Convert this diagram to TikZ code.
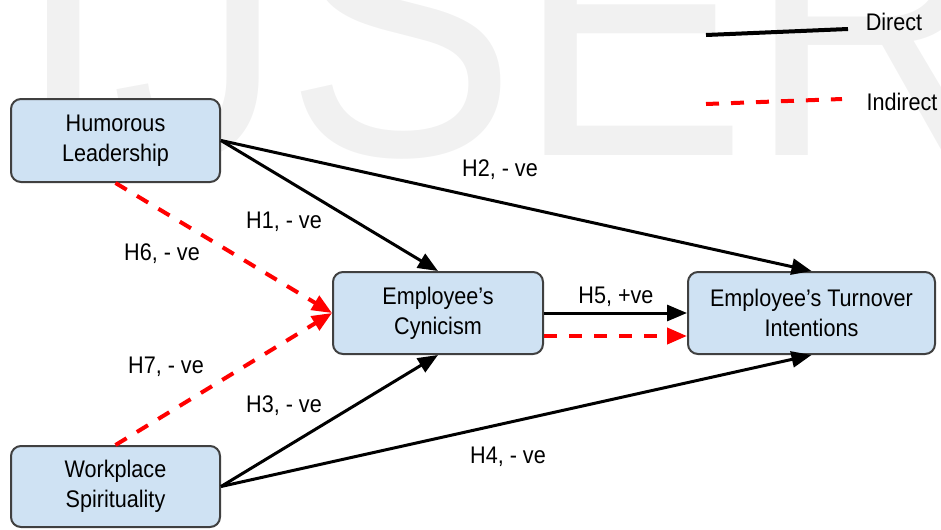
\documentclass[tikz,border=0pt]{standalone}
\usepackage{fontspec}
\setmainfont{Liberation Sans}[FakeStretch=0.9]
\usetikzlibrary{arrows.meta}

\definecolor{boxblue}{RGB}{207,226,243}
\definecolor{boxline}{RGB}{64,64,64}
\definecolor{markgray}{RGB}{241,241,241}

\tikzset{every picture/.style={line width=0.75pt}}
\tikzset{
	factor/.style={draw=boxline, fill=boxblue, rounded corners=7.5pt, line width=1.5pt, align=center, inner sep=0pt, font=\fontsize{18}{22.5}\selectfont},
	direct/.style={draw=black, line width=2.25pt, -{Triangle[length=15pt,width=12pt]}},
	indirect/.style={draw=red, line width=3pt, dash pattern={on 9.75pt off 9pt}, -{Triangle[length=15pt,width=12pt]}},
	hyp/.style={inner sep=0.75pt, font=\fontsize{18}{22.5}\selectfont}
}

\begin{document}
\begin{tikzpicture}[x=0.75pt,y=0.75pt,yscale=-1,xscale=1]
	\useasboundingbox (0,0) rectangle (941,529);
	
	%Watermark
	\begin{scope}
		\clip (0,0) rectangle (941,529);
		\node [anchor=base west, inner sep=0pt, text=markgray, font=\fontsize{289}{289}\selectfont] (mark) at (15,155) {IJSER};
	\end{scope}
	
	%Rounded Rect
	\node [factor, minimum width=156.75pt, minimum height=62.25pt] (hl) at (115.5,140.5) {Humorous\\Leadership};
	%Rounded Rect
	\node [factor, minimum width=156.75pt, minimum height=60.75pt] (ws) at (115.5,486.5) {Workplace\\Spirituality};
	%Rounded Rect
	\node [factor, minimum width=157.5pt, minimum height=61.5pt] (cyn) at (438,313) {Employee’s\\Cynicism};
	%Rounded Rect
	\node [factor, minimum width=185.25pt, minimum height=61.5pt] (ti) at (811.5,313) {Employee’s Turnover\\Intentions};
	
	%Straight Lines
	\draw [direct] (hl.east) -- (cyn.north);
	\draw [direct] (hl.east) -- (ti.north);
	\draw [direct] (ws.east) -- (cyn.south);
	\draw [direct] (ws.east) -- (ti.south);
	\draw [direct] (cyn.east) -- (ti.west);
	%Dashed Lines
	\draw [indirect] ([yshift=17.25pt]cyn.east) -- ([yshift=17.25pt]ti.west);
	\draw [indirect] (hl.south) -- (cyn.west);
	\draw [indirect] (ws.north) -- (cyn.west);
	
	% Text Node
	\node [hyp] (h1) at (284,222) {H1, - ve};
	% Text Node
	\node [hyp] (h2) at (500,170) {H2, - ve};
	% Text Node
	\node [hyp] (h3) at (284,406) {H3, - ve};
	% Text Node
	\node [hyp] (h4) at (508,457) {H4, - ve};
	% Text Node
	\node [hyp] (h5) at (616,297) {H5, +ve};
	% Text Node
	\node [hyp] (h6) at (162,254) {H6, - ve};
	% Text Node
	\node [hyp] (h7) at (166,367) {H7, - ve};
	
	%Legend
	\coordinate (dirA) at (706,35);
	\coordinate (dirB) at (848,29);
	\coordinate (indA) at (706,104);
	\coordinate (indB) at (842,99);
	\draw [line width=3pt] (dirA) -- (dirB);
	\draw [red, line width=3pt, dash pattern={on 9.75pt off 9pt}] (indA) -- (indB);
	% Text Node
	\node [hyp] (dir) at (894,22) {Direct};
	% Text Node
	\node [hyp] (ind) at (902,102) {Indirect};
	
\end{tikzpicture}
\end{document}
